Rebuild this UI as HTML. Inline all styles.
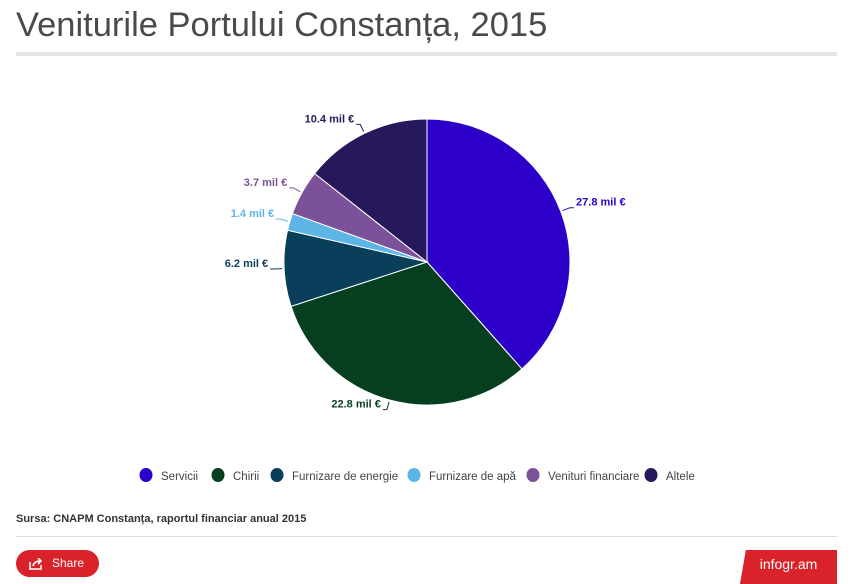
<!DOCTYPE html>
<html><head><meta charset="utf-8"><style>
body{margin:0;width:855px;height:584px;background:#fff;font-family:"Liberation Sans",sans-serif;overflow:hidden;position:relative}
#title{position:absolute;left:16px;top:6px;font-size:34.5px;color:#4a4a4a;letter-spacing:0px}
#bar{position:absolute;left:16px;top:52px;width:821px;height:4px;background:#e5e5e5}
#src{position:absolute;left:16px;top:513px;font-size:11px;font-weight:bold;color:#333}
#line{position:absolute;left:16px;top:536px;width:821px;height:1px;background:#ddd}
#share{position:absolute;left:16px;top:550px;width:83px;height:27px;border-radius:14px;background:#d9222a;color:#fff;font-size:12px;line-height:27px}
#logo{position:absolute;left:740px;top:550px;width:97px;height:34px;background:#d9222a;color:#fff;font-size:14px;line-height:28px;text-align:center;clip-path:polygon(6% 0,100% 0,100% 100%,0 100%)}
</style></head><body>
<div id="title">Veniturile Portului Constanța, 2015</div>
<div id="bar"></div>
<svg id="chart" width="855" height="500" style="position:absolute;left:0;top:0"></svg>
<div id="src">Sursa: CNAPM Constanța, raportul financiar anual 2015</div>
<div id="line"></div>
<div id="share"><svg width="14" height="12" style="position:absolute;left:13px;top:8px"><path d="M1 4v7h11V7" stroke="#fff" stroke-width="1.6" fill="none"/><path d="M4 8c1-4 4-5 7-5M9 0l3 3-3 3" stroke="#fff" stroke-width="1.6" fill="none"/></svg><span style="position:absolute;left:36px">Share</span></div>
<div id="logo">infogr.am</div>
<script>
const categories=["Servicii","Chirii","Furnizare de energie","Furnizare de apă","Venituri financiare","Altele"];
const values=[27.8,22.8,6.2,1.4,3.7,10.4];
const labels=["27.8 mil €","22.8 mil €","6.2 mil €","1.4 mil €","3.7 mil €","10.4 mil €"];
const colors=["#2c00c9","#063f20","#0a3f5c","#5db5e6","#7b5299","#26185a"];
const NS="http://www.w3.org/2000/svg";
const svg=document.getElementById('chart');
const cx=427,cy=262,r=143;
const total=values.reduce((a,b)=>a+b,0);
function pt(a,rr){return [cx+rr*Math.sin(a),cy-rr*Math.cos(a)];}
let acc=0;
values.forEach((v,i)=>{
  const a0=acc/total*2*Math.PI;acc+=v;const a1=acc/total*2*Math.PI;
  const p0=pt(a0,r),p1=pt(a1,r);
  const path=document.createElementNS(NS,'path');
  path.setAttribute('d',`M${cx},${cy}L${p0[0]},${p0[1]}A${r},${r} 0 ${a1-a0>Math.PI?1:0} 1 ${p1[0]},${p1[1]}Z`);
  path.setAttribute('fill',colors[i]);path.setAttribute('stroke','#fff');path.setAttribute('stroke-width','1');
  
  
  svg.appendChild(path);
  const am=(a0+a1)/2;const q=pt(am,r+2),q2=pt(am,r+10);
  const right=Math.sin(am)>=0;
  const ln=document.createElementNS(NS,'polyline');
  const ex=q2[0]+(right?4:-4);
  ln.setAttribute('points',`${q[0]},${q[1]} ${q2[0]},${q2[1]} ${ex},${q2[1]}`);
  ln.setAttribute('fill','none');ln.setAttribute('stroke',colors[i]);ln.setAttribute('stroke-width','1');
  
  
  svg.appendChild(ln);
  const t=document.createElementNS(NS,'text');
  t.setAttribute('x',ex+(right?2:-2));t.setAttribute('y',q2[1]-2);
  t.setAttribute('text-anchor',right?'start':'end');
  t.setAttribute('font-size','11');t.setAttribute('font-weight','bold');t.setAttribute('fill',colors[i]);
  t.textContent=labels[i];
  
  
  svg.appendChild(t);
});
const lx=[146,218,277,414,533,651];
categories.forEach((c,i)=>{
  const g=document.createElementNS(NS,'g');
  
  
  const ci=document.createElementNS(NS,'ellipse');
  ci.setAttribute('cx',lx[i]);ci.setAttribute('cy',475);ci.setAttribute('rx',6.5);ci.setAttribute('ry',7);ci.setAttribute('fill',colors[i]);
  g.appendChild(ci);
  const t=document.createElementNS(NS,'text');
  t.setAttribute('x',lx[i]+15);t.setAttribute('y',480);t.setAttribute('font-size','11.5');t.setAttribute('fill','#444');
  t.textContent=c;g.appendChild(t);svg.appendChild(g);
});
</script>
</body></html>
